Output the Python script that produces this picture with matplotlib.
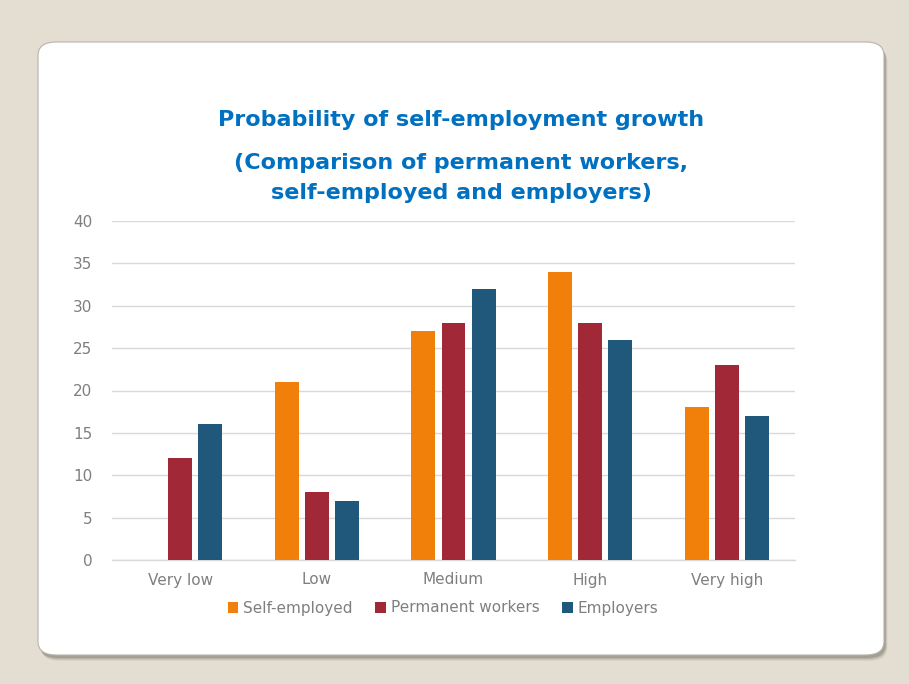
import numpy as np
import matplotlib.pyplot as plt
from matplotlib.patches import FancyBboxPatch

categories = ['Very low', 'Low', 'Medium', 'High', 'Very high']
self_employed = [0, 21, 27, 34, 18]
permanent_workers = [12, 8, 28, 28, 23]
employers = [16, 7, 32, 26, 17]

series = [
    ('Self-employed', self_employed, '#f0800a'),
    ('Permanent workers', permanent_workers, '#a02837'),
    ('Employers', employers, '#1f587a'),
]

W, H = 909, 684
fig = plt.figure(figsize=(W / 100, H / 100), dpi=100)
fig.patch.set_facecolor('#e4ddd1')

# card shadow, a few soft layers (offset mostly downward)
for i, a in enumerate([0.08, 0.12, 0.16, 0.22]):
    off = 4 - i
    shadow = FancyBboxPatch(((38 + off * 0.6 + 1) / W, 1 - (655 + off + 2) / H),
                            846 / W, 613 / H,
                            boxstyle='round,pad=0,rounding_size=0.02',
                            transform=fig.transFigure, facecolor='#5f5a50',
                            edgecolor='none', alpha=a, zorder=0)
    fig.patches.append(shadow)
card = FancyBboxPatch((38 / W, 1 - 655 / H), 846 / W, 613 / H,
                      boxstyle='round,pad=0,rounding_size=0.02',
                      transform=fig.transFigure, facecolor='white',
                      edgecolor='#b8b4ac', linewidth=0.8, zorder=1)
fig.patches.append(card)

ax = fig.add_axes([112 / W, 1 - 560 / H, (795 - 112) / W, (560 - 221) / H])
ax.set_facecolor('none')
ax.set_zorder(2)

x = np.arange(len(categories))
width = 0.175
step = 0.22
for i, (name, vals, color) in enumerate(series):
    ax.bar(x + (i - 1) * step, vals, width, color=color, label=name, zorder=3)

ax.set_xlim(-0.5, len(categories) - 0.5)
ax.set_ylim(0, 40)
ax.set_yticks(range(0, 41, 5))
ax.yaxis.grid(True, color='#d9d9d9', linewidth=1)
ax.set_axisbelow(True)
for s in ['top', 'right', 'left']:
    ax.spines[s].set_visible(False)
ax.spines['bottom'].set_color('#d9d9d9')
ax.spines['bottom'].set_linewidth(1)
ax.tick_params(axis='both', length=0, labelsize=11, labelcolor='#7f7f7f')
ax.tick_params(axis='y', pad=14)
ax.tick_params(axis='x', pad=9)
ax.set_xticks(x)
ax.set_xticklabels(categories)

title_color = '#0070c0'
fig.text(461 / W, 1 - 120 / H, 'Probability of self-employment growth',
         ha='center', va='center', fontsize=16, fontweight='bold', color=title_color)
fig.text(461 / W, 1 - 163 / H, '(Comparison of permanent workers,',
         ha='center', va='center', fontsize=16, fontweight='bold', color=title_color)
fig.text(461 / W, 1 - 193 / H, 'self-employed and employers)',
         ha='center', va='center', fontsize=16, fontweight='bold', color=title_color)

leg = fig.legend(loc='center', bbox_to_anchor=(443 / W, 1 - 608 / H), ncol=3,
                 frameon=False, fontsize=11, handlelength=0.7, handleheight=0.7,
                 handletextpad=0.3, columnspacing=1.5)
for t in leg.get_texts():
    t.set_color('#7f7f7f')

fig.savefig('out.png', dpi=100, facecolor=fig.get_facecolor())
